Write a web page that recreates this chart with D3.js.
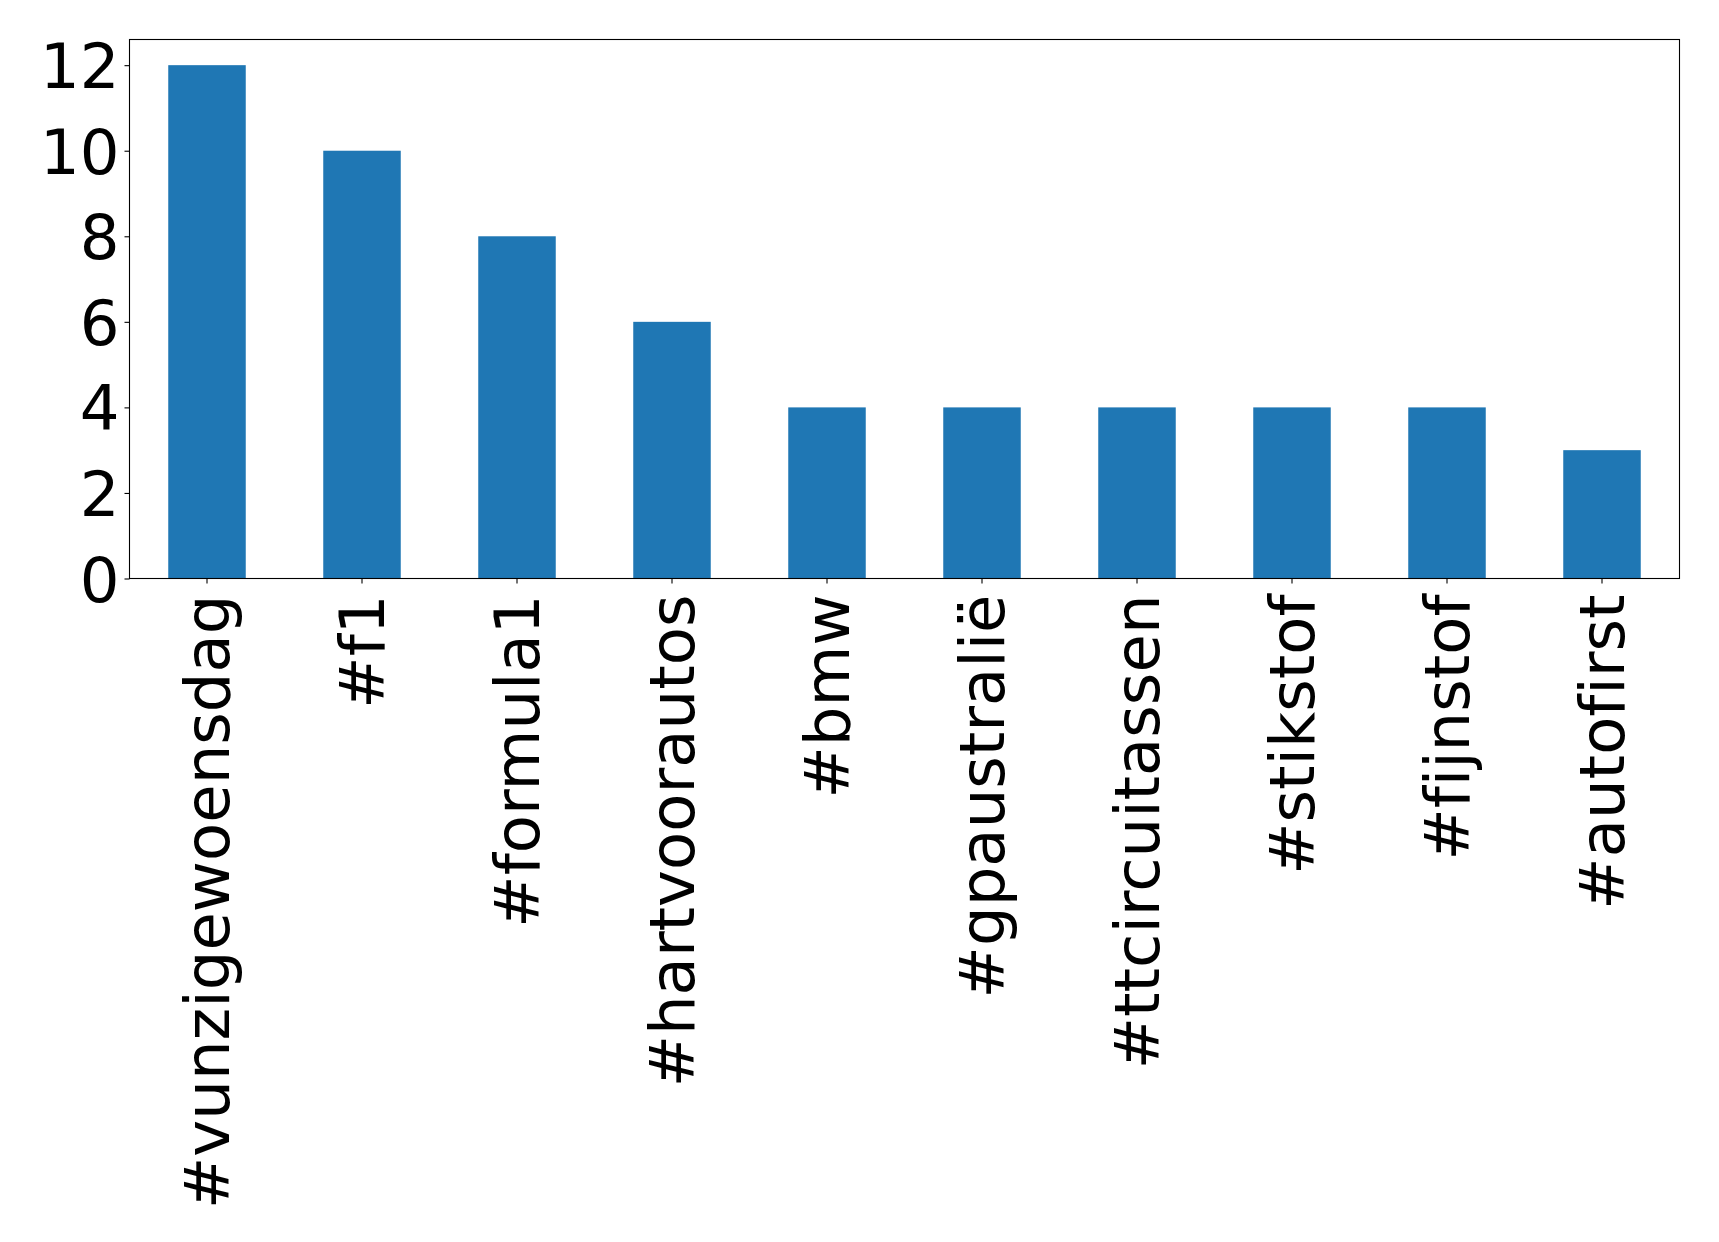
<!DOCTYPE html>
<html><head><meta charset="utf-8">
<script src="https://cdn.jsdelivr.net/npm/d3@7"></script>
<style>body{margin:0;background:#fff}svg{display:block}text{font-variant-ligatures:none;font-feature-settings:"liga" 0,"clig" 0}</style>
</head><body>
<script>
const categories = ["#vunzigewoensdag","#f1","#formula1","#hartvoorautos","#bmw","#gpaustralië","#ttcircuitassen","#stikstof","#fijnstof","#autofirst"];
const values = [12,10,8,6,4,4,4,4,4,3];
const yTicks = [0,2,4,6,8,10,12];

const W = 1719, H = 1242;
const m = {left:129.5, right:1679.5, top:39.5, bottom:578.5};
const svg = d3.select("body").append("svg").attr("width",W).attr("height",H);

const x = d3.scaleBand().domain(categories).range([m.left, m.right]).paddingInner(0.5).paddingOuter(0.25);
const y = d3.scaleLinear().domain([0, 12.6]).range([m.bottom, m.top]);

svg.append("g").selectAll("rect").data(values).join("rect")
  .attr("x",(d,i)=>x(categories[i]))
  .attr("width",x.bandwidth())
  .attr("y",d=>y(d))
  .attr("height",d=>y(0)-y(d))
  .attr("fill","#1f77b4");

const fs = "62.5px";
const yAxis = svg.append("g").attr("transform",`translate(${m.left},0)`)
  .call(d3.axisLeft(y).tickValues(yTicks).tickSize(5).tickPadding(5).tickFormat(d3.format("d")));
yAxis.select(".domain").remove();
yAxis.selectAll("text").attr("font-family","DejaVu Sans").attr("font-size",fs).attr("fill","#000").attr("dy","0.36em");
yAxis.selectAll("line").attr("stroke","#000").attr("stroke-width",1.1);

const xAxis = svg.append("g").attr("transform",`translate(0,${m.bottom})`)
  .call(d3.axisBottom(x).tickSize(5).tickPadding(5));
xAxis.select(".domain").remove();
xAxis.selectAll("line").attr("stroke","#000").attr("stroke-width",1.1);
xAxis.selectAll("text")
  .attr("font-family","DejaVu Sans").attr("font-size",fs).attr("fill","#000")
  .attr("text-anchor","end")
  .attr("dominant-baseline","central")
  .attr("dy",null)
  .attr("y",0)
  .attr("transform","translate(0,16) rotate(-90)");

svg.append("rect").attr("x",m.left).attr("y",m.top).attr("width",m.right-m.left).attr("height",m.bottom-m.top)
  .attr("fill","none").attr("stroke","#000").attr("stroke-width",1.1);
</script>
</body></html>
